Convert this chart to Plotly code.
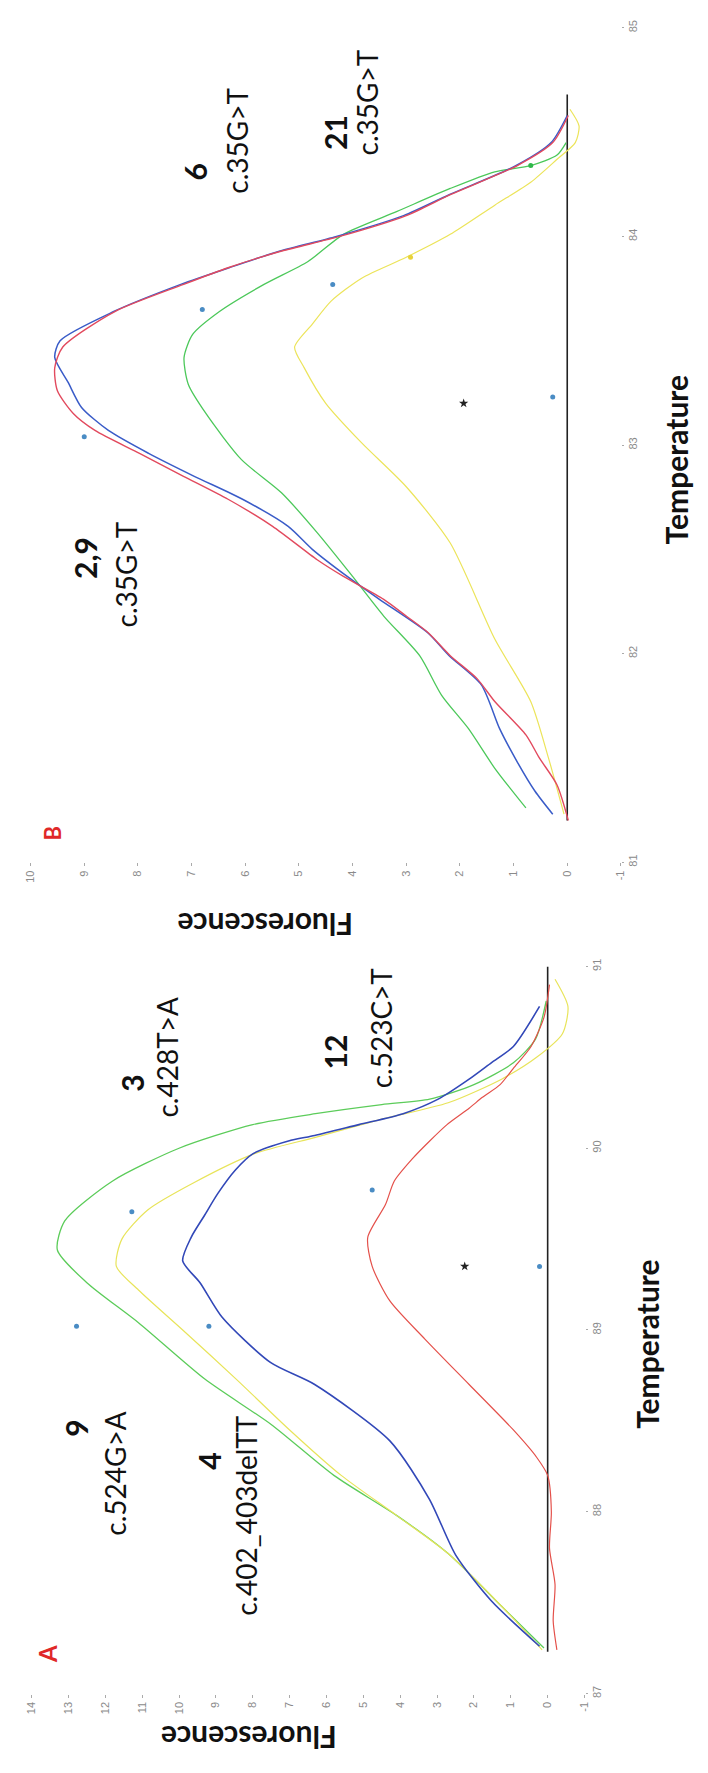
import plotly.graph_objects as go

# ---------------- Panel B (81-85 °C) ----------------
b_red_T = [81.2, 81.37, 81.5, 81.61, 81.77, 81.88, 81.99, 82.1, 82.18, 82.26, 82.37, 82.45, 82.61, 82.74,
           82.85, 82.96, 83.07, 83.15, 83.26, 83.37, 83.47, 83.64, 83.77, 83.85, 83.93, 84.0, 84.1, 84.2,
           84.34, 84.45, 84.58]
b_red_F = [-0.02, 0.19, 0.52, 0.77, 1.35, 1.68, 2.18, 2.59, 3.0, 3.42, 4.17, 4.66, 5.49, 6.32,
           7.15, 7.97, 8.8, 9.2, 9.5, 9.55, 9.4, 8.43, 7.15, 6.32, 5.32, 4.24, 3.0, 2.18,
           0.93, 0.27, -0.02]
b_blue_T = [81.23, 81.34, 81.48, 81.64, 81.85, 81.99, 82.1, 82.26, 82.37, 82.5, 82.61, 82.74, 82.85, 82.96,
            83.07, 83.18, 83.3, 83.42, 83.5, 83.64, 83.77, 83.85, 83.93, 84.0, 84.1, 84.2, 84.34, 84.45, 84.58]
b_blue_F = [0.27, 0.6, 0.93, 1.26, 1.6, 2.2, 2.6, 3.5, 4.1, 4.75, 5.2, 6.05, 6.95, 7.8,
            8.55, 9.05, 9.3, 9.55, 9.45, 8.45, 7.2, 6.3, 5.35, 4.3, 3.05, 2.2, 0.95, 0.3, 0.0]
b_green_T = [81.26, 81.45, 81.64, 81.8, 81.99, 82.18, 82.37, 82.58, 82.77, 82.93, 83.15, 83.29, 83.42, 83.53,
             83.64, 83.77, 83.88, 84.01, 84.12, 84.23, 84.31, 84.34, 84.39, 84.45]
b_green_F = [0.77, 1.35, 1.84, 2.34, 2.75, 3.42, 4.0, 4.66, 5.32, 6.07, 6.73, 7.06, 7.14, 6.98,
             6.48, 5.65, 4.83, 4.17, 3.17, 2.18, 1.35, 0.68, 0.19, 0.02]
b_yellow_T = [81.23, 81.5, 81.77, 82.07, 82.53, 82.8, 83.01, 83.2, 83.37, 83.47, 83.58, 83.69, 83.8, 83.9,
              84.01, 84.15, 84.26, 84.37, 84.45, 84.53, 84.61]
b_yellow_F = [0.06, 0.35, 0.68, 1.35, 2.18, 3.0, 3.83, 4.5, 4.9, 5.08, 4.75, 4.4, 3.83, 3.0,
              2.18, 1.35, 0.68, 0.19, -0.15, -0.22, -0.05]
b_base_T = [81.2, 84.68]
b_base_F = [0, 0]
b_dot_F = [9.0, 6.8, 4.37, 0.27]
b_dot_T = [83.04, 83.65, 83.77, 83.23]
b_star_F = [1.93]
b_star_T = [83.2]
b_ymark_F = [2.92]
b_ymark_T = [83.9]
b_gmark_F = [0.68]
b_gmark_T = [84.34]
b_temp_ticks = [81, 82, 83, 84, 85]
b_fl_ticks = list(range(-1, 11))

# ---------------- Panel A (87-91 °C) ----------------
a_green_T = [87.25, 87.48, 87.77, 87.98, 88.2, 88.48, 88.73, 89.04, 89.26, 89.44, 89.6, 89.82, 90.0,
             90.13, 90.19, 90.24, 90.27, 90.35, 90.47, 90.6, 90.81]
a_green_F = [0.1, 1.25, 2.7, 4.1, 5.8, 7.5, 9.3, 11.1, 12.5, 13.3, 13.1, 11.8, 10.0,
             8.0, 6.3, 4.5, 3.2, 2.0, 0.93, 0.33, 0.04]
a_yellow_T = [87.24, 87.48, 87.77, 87.98, 88.2, 88.45, 88.73, 89.0, 89.22, 89.35, 89.5, 89.66, 89.81, 89.97,
              90.06, 90.16, 90.25, 90.38, 90.5, 90.63, 90.78, 90.93]
a_yellow_F = [0.15, 1.25, 2.7, 4.1, 5.6, 7.0, 8.45, 9.9, 11.1, 11.7, 11.55, 10.85, 9.6, 7.95,
              6.3, 4.5, 2.7, 1.25, 0.3, -0.4, -0.55, -0.2]
a_blue_T = [87.26, 87.51, 87.76, 88.07, 88.39, 88.7, 88.82, 89.07, 89.26, 89.38, 89.51, 89.63, 89.75, 89.88,
            89.97, 90.04, 90.07, 90.13, 90.19, 90.27, 90.38, 90.47, 90.56, 90.78]
a_blue_F = [0.22, 1.53, 2.49, 3.21, 4.28, 6.32, 7.51, 8.83, 9.43, 9.9, 9.67, 9.31, 8.95, 8.47,
            7.99, 7.03, 6.32, 5.12, 3.92, 2.97, 2.13, 1.53, 0.93, 0.22]
a_red_T = [87.24, 87.4, 87.6, 87.8, 88.0, 88.2, 88.3, 88.45, 88.7, 88.95, 89.16, 89.35, 89.51, 89.69,
           89.82, 89.94, 90.04, 90.13, 90.22, 90.28, 90.35, 90.44, 90.56, 90.72, 90.9]
a_red_F = [-0.25, -0.15, -0.2, -0.05, -0.1, 0.0, 0.3, 0.93, 2.13, 3.33, 4.28, 4.76, 4.88, 4.4,
           4.16, 3.68, 3.2, 2.73, 2.13, 1.77, 1.29, 0.93, 0.45, 0.1, -0.05]
a_base_T = [87.23, 91.0]
a_base_F = [0, 0]
a_dot_F = [12.78, 11.28, 9.19, 4.76, 0.22]
a_dot_T = [89.02, 89.65, 89.02, 89.77, 89.35]
a_star_F = [2.25]
a_star_T = [89.35]
a_temp_ticks = [87, 88, 89, 90, 91]
a_fl_ticks = list(range(-1, 15))

W, H = 708, 1773

fig = go.Figure()


def line(Fv, Tv, color, width, xa, ya, shape="spline"):
    fig.add_trace(go.Scatter(x=Fv, y=Tv, mode="lines",
                             line=dict(color=color, width=width, shape=shape, smoothing=0.7),
                             xaxis=xa, yaxis=ya, showlegend=False, hoverinfo="skip"))


def marks(Fv, Tv, color, symbol, size, xa, ya):
    fig.add_trace(go.Scatter(x=Fv, y=Tv, mode="markers",
                             marker=dict(color=color, symbol=symbol, size=size, line=dict(width=0)),
                             xaxis=xa, yaxis=ya, showlegend=False, hoverinfo="skip"))


# Panel B traces
line(b_base_F, b_base_T, "#222222", 1.6, "x", "y", shape="linear")
line(b_yellow_F, b_yellow_T, "#ece45a", 1.2, "x", "y")
line(b_green_F, b_green_T, "#4cc85a", 1.3, "x", "y")
line(b_blue_F, b_blue_T, "#3a5cc8", 1.5, "x", "y")
line(b_red_F, b_red_T, "#e24a5e", 1.4, "x", "y")
marks(b_dot_F, b_dot_T, "#4a8cc4", "circle", 5, "x", "y")
marks(b_ymark_F, b_ymark_T, "#e8d23a", "circle", 5, "x", "y")
marks(b_gmark_F, b_gmark_T, "#2fb84a", "circle", 5, "x", "y")
marks(b_star_F, b_star_T, "#222222", "star", 7, "x", "y")

# Panel A traces
line(a_base_F, a_base_T, "#222222", 1.6, "x2", "y2", shape="linear")
line(a_green_F, a_green_T, "#5ccc5a", 1.3, "x2", "y2")
line(a_yellow_F, a_yellow_T, "#e8e45a", 1.2, "x2", "y2")
line(a_blue_F, a_blue_T, "#3248b8", 1.6, "x2", "y2")
line(a_red_F, a_red_T, "#e4504a", 1.2, "x2", "y2")
marks(a_dot_F, a_dot_T, "#4a8cc4", "circle", 5, "x2", "y2")
marks(a_star_F, a_star_T, "#222222", "star", 7, "x2", "y2")

tickfont = dict(family="Liberation Sans", size=11, color="#8a8a8a")
common_x = dict(showgrid=False, zeroline=False, showline=False, ticks="outside", ticklen=3,
                tickcolor="#aaaaaa", tickwidth=1, tickangle=-90, tickfont=tickfont, side="bottom")
common_y = dict(showgrid=False, zeroline=False, showline=False, ticks="outside", ticklen=2,
                tickcolor="#aaaaaa", tickwidth=1, tickangle=-90, tickfont=tickfont, side="right")

fig.update_layout(
    width=W, height=H, margin=dict(l=0, r=0, t=0, b=0),
    paper_bgcolor="white", plot_bgcolor="white",
    xaxis=dict(domain=[25 / W, 625.5 / W], range=[10, -1], anchor="y",
               tickvals=b_fl_ticks, ticktext=[str(v) for v in b_fl_ticks], **common_x),
    yaxis=dict(domain=[(H - 860) / H, (H - 20) / H], range=[81, 85], anchor="x",
               tickvals=b_temp_ticks, ticktext=[str(v) for v in b_temp_ticks], **common_y),
    xaxis2=dict(domain=[26 / W, 588.5 / W], range=[14, -1], anchor="y2",
                tickvals=a_fl_ticks, ticktext=[str(v) for v in a_fl_ticks], **common_x),
    yaxis2=dict(domain=[(H - 1697) / H, (H - 965) / H], range=[87, 91], anchor="x2",
                tickvals=a_temp_ticks, ticktext=[str(v) for v in a_temp_ticks], **common_y),
)

num_font = dict(family="Lato", size=30, color="#111111")
mut_font = dict(family="Lato", size=28, color="#111111")
title_font = dict(family="Lato", size=30, color="#111111")


def ann(text, x, y, xref, yref, font, angle=-90):
    fig.add_annotation(text=text, x=x, y=y, xref=xref, yref=yref, showarrow=False,
                       textangle=angle, font=font, xanchor="center", yanchor="middle")


# Panel B labels
ann("<b>2,9</b>", 9.0, 82.46, "x", "y", num_font)
ann("c.35G&gt;T", 8.22, 82.38, "x", "y", mut_font)
ann("<b>6</b>", 6.94, 84.31, "x", "y", num_font)
ann("c.35G&gt;T", 6.15, 84.46, "x", "y", mut_font)
ann("<b>21</b>", 4.33, 84.5, "x", "y", num_font)
ann("c.35G&gt;T", 3.74, 84.64, "x", "y", mut_font)
ann("<b>B</b>", 47 / W, 1 - 831 / H, "paper", "paper", dict(family="Lato", size=22, color="#e02828"))
ann("<b>Temperature</b>", 681 / W, 1 - 455 / H, "paper", "paper", title_font)
ann("<b>Fluorescence</b>", 264 / W, 1 - 923 / H, "paper", "paper", title_font, angle=180)

# Panel A labels
ann("<b>9</b>", 12.78, 88.46, "x2", "y2", num_font)
ann("c.524G&gt;A", 11.76, 88.21, "x2", "y2", mut_font)
ann("<b>4</b>", 9.19, 88.28, "x2", "y2", num_font)
ann("c.402_403delTT", 8.17, 87.98, "x2", "y2", mut_font)
ann("<b>3</b>", 11.28, 90.36, "x2", "y2", num_font)
ann("c.428T&gt;A", 10.32, 90.5, "x2", "y2", mut_font)
ann("<b>12</b>", 5.78, 90.53, "x2", "y2", num_font)
ann("c.523C&gt;T", 4.52, 90.66, "x2", "y2", mut_font)
ann("<b>A</b>", 43 / W, 1 - 1657 / H, "paper", "paper", dict(family="Lato", size=24, color="#e02828"))
ann("<b>Temperature</b>", 652 / W, 1 - 1345 / H, "paper", "paper", title_font)
ann("<b>Fluorescence</b>", 247 / W, 1 - 1742 / H, "paper", "paper", title_font, angle=180)

fig.write_html("out.html")
